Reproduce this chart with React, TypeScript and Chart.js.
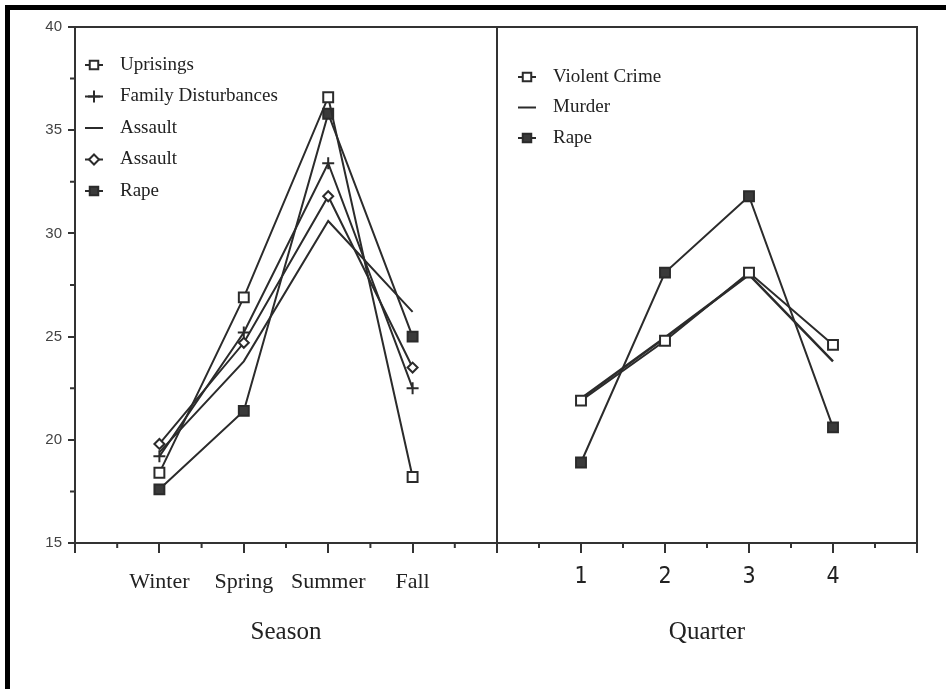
import React, { useEffect, useRef } from 'react';
import { Chart, registerables } from 'chart.js';

Chart.register(...registerables);

// ---------- data ----------
const seasons = ['Winter', 'Spring', 'Summer', 'Fall'];
const quarters = ['1', '2', '3', '4'];

const uprisings = [18.4, 26.9, 36.6, 18.2];
const familyDisturbances = [19.2, 25.2, 33.4, 22.5];
const assaultLine = [19.4, 23.8, 30.6, 26.2];
const assaultDiamond = [19.8, 24.7, 31.8, 23.5];
const rapeSeason = [17.6, 21.4, 35.8, 25.0];

const violentCrime = [21.9, 24.8, 28.1, 24.6];
const murder = [22.0, 24.95, 28.0, 23.8];
const rapeQuarter = [18.9, 28.1, 31.8, 20.6];

const yTickValues = [15, 20, 25, 30, 35, 40];
const yMinorTicks = [17.5, 22.5, 27.5, 32.5, 37.5];
const xMinorTicks = [0.5, 1.5, 2.5, 3.5, 4.5];

// ---------- styles ----------
const INK = '#2b2b2b';
const AXIS = '#333333';
const SERIF = "'Liberation Serif', 'Times New Roman', serif";
const SANS = "'Liberation Sans', Arial, sans-serif";
const NARROW = "'Liberation Sans Narrow', 'DejaVu Sans Condensed', 'Liberation Sans', sans-serif";

const toPoints = (vals: number[]) => vals.map((v, i) => ({ x: i + 1, y: v }));

function ds(label: string, vals: number[], style: string | false, radius: number, fill: string, width = 2) {
  return {
    label,
    data: toPoints(vals),
    borderColor: INK,
    borderWidth: width,
    pointStyle: style === false ? 'circle' : style,
    pointRadius: style === false ? 0 : radius,
    pointBorderWidth: 2,
    pointBorderColor: INK,
    pointBackgroundColor: fill,
    backgroundColor: fill,
    tension: 0,
    fill: false,
    _legendStyle: style,
  } as any;
}

// ---------- plugins ----------
function drawMarker(ctx: CanvasRenderingContext2D, style: string | false, r: number, x: number, y: number, fill: string) {
  if (style === false) return;
  ctx.save();
  ctx.lineWidth = 2;
  ctx.strokeStyle = INK;
  ctx.fillStyle = fill;
  ctx.beginPath();
  if (style === 'rect') {
    const s = Math.SQRT1_2 * r;
    ctx.rect(x - s, y - s, 2 * s, 2 * s);
    ctx.fill();
    ctx.stroke();
  } else if (style === 'rectRot') {
    ctx.moveTo(x, y - r);
    ctx.lineTo(x + r, y);
    ctx.lineTo(x, y + r);
    ctx.lineTo(x - r, y);
    ctx.closePath();
    ctx.fill();
    ctx.stroke();
  } else if (style === 'cross') {
    ctx.moveTo(x - r, y);
    ctx.lineTo(x + r, y);
    ctx.moveTo(x, y - r);
    ctx.lineTo(x, y + r);
    ctx.stroke();
  }
  ctx.restore();
}

const framePlugin = {
  id: 'frameMinor',
  afterDraw(chart: any, _args: any, opts: any) {
    const { ctx, chartArea: a, scales } = chart;
    ctx.save();
    ctx.strokeStyle = AXIS;
    ctx.lineWidth = 2;
    ctx.beginPath();
    ctx.moveTo(a.left, a.top);
    ctx.lineTo(a.right, a.top);
    ctx.lineTo(a.right, a.bottom);
    ctx.stroke();
    ctx.beginPath();
    for (const v of xMinorTicks) {
      const px = scales.x.getPixelForValue(v);
      ctx.moveTo(px, a.bottom);
      ctx.lineTo(px, a.bottom + 5);
    }
    if (opts.yMinor) {
      for (const v of yMinorTicks) {
        const py = scales.y.getPixelForValue(v);
        ctx.moveTo(a.left - 5, py);
        ctx.lineTo(a.left, py);
      }
    }
    ctx.stroke();
    ctx.restore();
  },
};

const legendPlugin = {
  id: 'sideLegend',
  afterDatasetsDraw(chart: any, _args: any, opts: any) {
    const { ctx, chartArea: a } = chart;
    chart.data.datasets.forEach((d: any, i: number) => {
      const y = a.top + opts.top + i * opts.rowGap;
      const mx = a.left + opts.markerX;
      ctx.save();
      ctx.strokeStyle = INK;
      ctx.lineWidth = 2;
      ctx.beginPath();
      ctx.moveTo(mx - 9, y);
      ctx.lineTo(mx + 9, y);
      ctx.stroke();
      ctx.restore();
      drawMarker(ctx, d._legendStyle, d.pointRadius ? Math.min(d.pointRadius, 6) : 0, mx, y, d.pointBackgroundColor);
      ctx.save();
      ctx.fillStyle = '#222';
      ctx.font = `19px ${SERIF}`;
      ctx.textBaseline = 'middle';
      ctx.textAlign = 'left';
      ctx.fillText(d.label, a.left + opts.textX, y);
      ctx.restore();
    });
  },
};

// ---------- configs ----------
function baseScales(labels: string[], title: string, labelFont: any, labelPad: number) {
  return {
    x: {
      type: 'linear',
      min: 0,
      max: 5,
      afterFit: (s: any) => {
        s.height = 146;
      },
      ticks: {
        stepSize: 1,
        autoSkip: false,
        maxRotation: 0,
        minRotation: 0,
        padding: labelPad,
        color: '#222',
        font: labelFont,
        callback: (v: any) => {
          const n = Number(v);
          return Number.isInteger(n) && n >= 1 && n <= labels.length ? labels[n - 1] : '';
        },
      },
      grid: { drawOnChartArea: false, tickLength: 10, color: AXIS, lineWidth: 2 },
      border: { display: true, color: AXIS, width: 2 },
      title: {
        display: true,
        text: title,
        color: '#222',
        font: { family: SERIF, size: 25 },
        padding: { top: 0, bottom: 42 },
      },
    },
  };
}

function leftConfig(): any {
  return {
    type: 'line',
    data: {
      datasets: [
        ds('Uprisings', uprisings, 'rect', 7, '#ffffff'),
        ds('Family Disturbances', familyDisturbances, 'cross', 6, '#ffffff'),
        ds('Assault', assaultLine, false, 0, '#ffffff'),
        ds('Assault', assaultDiamond, 'rectRot', 5, '#ffffff'),
        ds('Rape', rapeSeason, 'rect', 7, '#3a3a3a'),
      ],
    },
    options: {
      responsive: false,
      maintainAspectRatio: false,
      devicePixelRatio: 1,
      animation: false,
      layout: { padding: { left: 0, right: 23, top: 27, bottom: 0 } },
      plugins: {
        legend: { display: false },
        tooltip: { enabled: false },
        frameMinor: { yMinor: true },
        sideLegend: { markerX: 19, textX: 45, top: 38, rowGap: 31.5 },
      },
      scales: {
        ...baseScales(seasons, 'Season', { family: SERIF, size: 22 }, 16),
        y: {
          type: 'linear',
          min: 15,
          max: 40,
          afterFit: (s: any) => {
            s.width = 75;
          },
          afterBuildTicks: (s: any) => {
            s.ticks = yTickValues.map((v) => ({ value: v }));
          },
          ticks: {
            padding: 6,
            color: '#444',
            font: { family: SANS, size: 15 },
          },
          grid: { drawOnChartArea: false, tickLength: 7, color: AXIS, lineWidth: 2 },
          border: { display: true, color: AXIS, width: 2 },
        },
      },
    },
    plugins: [framePlugin, legendPlugin],
  };
}

function rightConfig(): any {
  return {
    type: 'line',
    data: {
      datasets: [
        ds('Violent Crime', violentCrime, 'rect', 7, '#ffffff'),
        ds('Murder', murder, false, 0, '#ffffff', 2.5),
        ds('Rape', rapeQuarter, 'rect', 7, '#3a3a3a'),
      ],
    },
    options: {
      responsive: false,
      maintainAspectRatio: false,
      devicePixelRatio: 1,
      animation: false,
      layout: { padding: { left: 17, right: 29, top: 27, bottom: 0 } },
      plugins: {
        legend: { display: false },
        tooltip: { enabled: false },
        frameMinor: { yMinor: false },
        sideLegend: { markerX: 30, textX: 56, top: 50, rowGap: 30.5 },
      },
      scales: {
        ...baseScales(quarters, 'Quarter', { family: NARROW, size: 23 }, 10),
        y: {
          type: 'linear',
          min: 15,
          max: 40,
          display: false,
        },
      },
    },
    plugins: [framePlugin, legendPlugin],
  };
}

export default function App() {
  const leftRef = useRef<HTMLCanvasElement>(null);
  const rightRef = useRef<HTMLCanvasElement>(null);

  useEffect(() => {
    const c1 = new Chart(leftRef.current as HTMLCanvasElement, leftConfig());
    const c2 = new Chart(rightRef.current as HTMLCanvasElement, rightConfig());
    return () => {
      c1.destroy();
      c2.destroy();
    };
  }, []);

  return (
    <div
      style={{
        position: 'fixed',
        left: 0,
        top: 0,
        width: 946,
        height: 689,
        background: '#ffffff',
        overflow: 'hidden',
      }}
    >
      <div style={{ position: 'absolute', left: 5, top: 5, width: 941, height: 5, background: '#000' }} />
      <div style={{ position: 'absolute', left: 5, top: 5, width: 5, height: 684, background: '#000' }} />
      <canvas
        ref={leftRef}
        width={520}
        height={689}
        style={{ position: 'absolute', left: 0, top: 0, width: 520, height: 689 }}
      />
      <canvas
        ref={rightRef}
        width={466}
        height={689}
        style={{ position: 'absolute', left: 480, top: 0, width: 466, height: 689 }}
      />
    </div>
  );
}
